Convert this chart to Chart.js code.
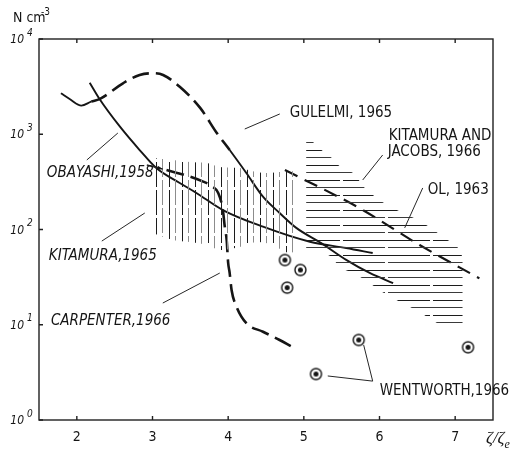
<!DOCTYPE html>
<html>
<head>
<meta charset="utf-8">
<style>
  html, body { margin: 0; padding: 0; background: #fff; }
  #wrap { width: 522px; height: 455px; }
</style>
<script src="https://cdn.jsdelivr.net/npm/chart.js@4.4.1/dist/chart.umd.min.js"></script>
</head>
<body>
<div id="wrap"><canvas id="c" width="522" height="455"></canvas></div>
<script>
// ---- axis ticks ----
const xTicks = [2, 3, 4, 5, 6, 7];
const yTicks = [1, 10, 100, 1000, 10000];
const yTickExp = ['0', '1', '2', '3', '4'];

// ---- Gulelmi, 1965 (solid / dashed / solid) ----
const gulelmiX = [1.79, 1.91, 2.06, 2.19, 2.30, 2.61, 2.83, 3.01, 3.14, 3.36, 3.63, 3.85, 4.02, 4.24, 4.46, 4.68, 4.90, 5.23, 5.56, 5.87, 6.18];
const gulelmiN = [2690, 2330, 2000, 2200, 2340, 3430, 4190, 4370, 4190, 3150, 1890, 1030, 683, 392, 221, 149, 104, 72, 48, 35, 27.4];
const gulelmiDashFrom = 2.19;
const gulelmiDashTo = 4.02;

// ---- Obayashi, 1958 ----
const obayashiX = [2.17, 2.30, 2.57, 2.83, 3.05, 3.36, 3.58, 3.93, 4.46, 5.08, 5.56, 5.91];
const obayashiN = [3475, 2344, 1200, 683, 442, 308, 242, 160, 107, 74.4, 64, 56.6];

// ---- Carpenter, 1966 ----
const carpenterX = [3.185, 3.43, 3.67, 3.78, 3.87, 3.93, 3.955, 3.98, 4.00, 4.02, 4.045, 4.11, 4.24, 4.46, 4.68, 4.84];
const carpenterN = [421, 373, 318, 287, 240, 160, 107, 77.6, 44.5, 34.9, 23.2, 15.5, 10.4, 8.45, 6.92, 5.88];

// ---- Ol, 1963 ----
const olX = [4.75, 5.74, 6.53, 7.32];
const olN = [421, 167, 68.7, 30.7];

// ---- Kitamura, 1965 (range) ----
const kitamuraX   = [3.00, 3.27, 3.49, 3.72, 3.89, 4.15, 4.38, 4.55, 4.81, 4.91];
const kitamuraTop = [564, 537, 512, 499, 453, 442, 401, 392, 411, 401];
const kitamuraLow = [91.8, 77.6, 74.0, 68.8, 60.9, 65.5, 74.0, 70.5, 56.6, 60.9];

// ---- Kitamura and Jacobs, 1966 (range) ----
const kjX   = [5.03, 5.12, 5.25, 5.37, 5.47, 5.65, 5.83, 6.10, 6.51, 6.70, 6.84, 6.97, 7.06, 7.10];
const kjTop = [830, 830, 667, 563, 464, 392, 260, 181, 126, 101, 83, 72, 61, 50];
const kjLow = [61, 61, 56.6, 51.4, 40.4, 34.9, 28.8, 20.5, 13.9, 11.2, 9.5, 9.5, 9.5, 9.5];

// ---- single measurements ----
const spotX = [4.75, 4.955, 4.78];
const spotN = [47.8, 37.6, 24.5];
const wentworthX = [5.16, 5.725, 7.17];
const wentworthN = [3.04, 6.92, 5.80];

// ---- annotations (placed in data units) ----
const notes = [
  { text: 'GULELMI, 1965',  x: 4.814, y: 1517, italic: false },
  { text: 'KITAMURA AND',   x: 6.122, y: 871,  italic: false },
  { text: 'JACOBS, 1966',   x: 6.108, y: 592,  italic: false },
  { text: 'OL, 1963',       x: 6.637, y: 236,  italic: false },
  { text: 'OBAYASHI,1958',  x: 1.604, y: 356,  italic: true },
  { text: 'KITAMURA,1965',  x: 1.630, y: 47.9, italic: true },
  { text: 'CARPENTER,1966', x: 1.657, y: 9.93, italic: true },
  { text: 'WENTWORTH,1966', x: 6.003, y: 1.83, italic: false }
];
const leaders = [
  [[4.219, 1135], [4.682, 1633]],
  [[2.132, 537], [2.542, 1030]],
  [[2.330, 75.6], [2.898, 149]],
  [[3.136, 16.9], [3.889, 34.9]],
  [[5.778, 331], [6.042, 606]],
  [[6.333, 104], [6.571, 273]],
  [[5.316, 2.90], [5.910, 2.56], [5.791, 6.12]]
];
const arrows = [
  [[2.925, 475], [3.136, 431]]
];

const NARROW = "'Liberation Sans Narrow', 'DejaVu Sans Condensed', 'Liberation Sans', sans-serif";
const INK = '#151515';

const pts = (xs, ys) => xs.map((x, i) => ({ x: x, y: ys[i] }));

function verticalHatch() {
  const c = document.createElement('canvas');
  c.width = 13; c.height = 28;
  const g = c.getContext('2d');
  g.fillStyle = '#1c1c1c';
  g.fillRect(0, 0, 1, 19); g.fillRect(0, 22, 1, 6);
  g.fillStyle = '#8c8c8c';
  g.fillRect(6, 0, 1, 9); g.fillRect(6, 12, 1, 16);
  return g.createPattern(c, 'repeat');
}
function horizontalHatch() {
  const c = document.createElement('canvas');
  c.width = 90; c.height = 15;
  const g = c.getContext('2d');
  g.fillStyle = '#1c1c1c';
  g.fillRect(0, 0, 70, 1); g.fillRect(73, 0, 17, 1);
  g.fillStyle = '#3a3a3a';
  g.fillRect(0, 7, 25, 1); g.fillRect(28, 7, 62, 1);
  return g.createPattern(c, 'repeat');
}
function ringDot() {
  const c = document.createElement('canvas');
  c.width = 15; c.height = 15;
  const g = c.getContext('2d');
  g.fillStyle = '#fff';
  g.beginPath(); g.arc(7.5, 7.5, 5.5, 0, Math.PI * 2); g.fill();
  g.strokeStyle = INK; g.lineWidth = 1.4; g.stroke();
  g.fillStyle = INK;
  g.beginPath(); g.arc(7.5, 7.5, 2.5, 0, Math.PI * 2); g.fill();
  return c;
}

const marker = ringDot();
const clear = 'rgba(0,0,0,0)';

// frame, ticks, axis texts and annotations
const decorations = {
  id: 'decorations',
  afterDatasetsDraw(chart) {
    const { ctx, chartArea: a, scales: { x, y } } = chart;
    ctx.save();
    ctx.strokeStyle = '#202020';
    ctx.lineWidth = 1.4;
    ctx.strokeRect(a.left, a.top, a.right - a.left, a.bottom - a.top);

    // ticks pointing inward
    ctx.beginPath();
    xTicks.forEach(v => {
      const px = x.getPixelForValue(v);
      ctx.moveTo(px, a.bottom); ctx.lineTo(px, a.bottom - 4);
      ctx.moveTo(px, a.top); ctx.lineTo(px, a.top + 4);
    });
    yTicks.forEach(v => {
      const py = y.getPixelForValue(v);
      ctx.moveTo(a.left, py); ctx.lineTo(a.left + 4, py);
    });
    ctx.stroke();

    ctx.fillStyle = INK;
    ctx.textBaseline = 'middle';
    ctx.textAlign = 'center';
    ctx.font = '14px ' + NARROW;
    xTicks.forEach(v => ctx.fillText(String(v), x.getPixelForValue(v), 437));

    yTicks.forEach((v, i) => {
      const py = y.getPixelForValue(v) + 1;
      ctx.textAlign = 'right';
      ctx.font = 'italic 12px ' + NARROW;
      ctx.fillText('10', a.left - 15, py);
      ctx.textAlign = 'left';
      ctx.font = 'italic 10px ' + NARROW;
      ctx.fillText(yTickExp[i], a.left - 12, py - 7);
    });

    // axis titles
    ctx.textAlign = 'left';
    ctx.textBaseline = 'alphabetic';
    ctx.font = '14px ' + NARROW;
    ctx.fillText('N cm', 13, 22);
    ctx.font = '10px ' + NARROW;
    ctx.fillText('-3', 41, 15);
    ctx.font = 'italic 17px "Liberation Serif", "DejaVu Serif", serif';
    ctx.fillText('\u03b6/\u03b6', 486, 443);
    const w = ctx.measureText('\u03b6/\u03b6').width;
    ctx.font = 'italic 12px "Liberation Serif", "DejaVu Serif", serif';
    ctx.fillText('e', 486 + w, 448);

    // leader lines
    ctx.strokeStyle = '#262626';
    ctx.lineWidth = 1;
    leaders.forEach(path => {
      ctx.beginPath();
      path.forEach(([vx, vy], k) => {
        const px = x.getPixelForValue(vx), py = y.getPixelForValue(vy);
        if (k === 0) ctx.moveTo(px, py); else ctx.lineTo(px, py);
      });
      ctx.stroke();
    });
    arrows.forEach(([[x0, y0], [x1, y1]]) => {
      const ax = x.getPixelForValue(x0), ay = y.getPixelForValue(y0);
      const bx = x.getPixelForValue(x1), by = y.getPixelForValue(y1);
      ctx.lineWidth = 1.4;
      ctx.beginPath(); ctx.moveTo(ax, ay); ctx.lineTo(bx, by); ctx.stroke();
      const ang = Math.atan2(by - ay, bx - ax);
      ctx.beginPath();
      ctx.moveTo(bx, by);
      ctx.lineTo(bx - 6 * Math.cos(ang - 0.35), by - 6 * Math.sin(ang - 0.35));
      ctx.lineTo(bx - 6 * Math.cos(ang + 0.35), by - 6 * Math.sin(ang + 0.35));
      ctx.closePath(); ctx.fill();
    });

    // labels
    notes.forEach(n => {
      ctx.font = (n.italic ? 'italic ' : '') + '15px ' + NARROW;
      ctx.fillText(n.text, x.getPixelForValue(n.x), y.getPixelForValue(n.y));
    });
    ctx.restore();
  }
};

const lineBase = { pointRadius: 0, fill: false, cubicInterpolationMode: 'monotone', borderColor: INK };

new Chart(document.getElementById('c'), {
  type: 'line',
  data: {
    datasets: [
      // Kitamura 1965 range: top edge then hatched fill down to the low edge
      { data: pts(kitamuraX, kitamuraTop), borderColor: clear, borderWidth: 1, pointRadius: 0, fill: false, tension: 0.3 },
      { data: pts(kitamuraX, kitamuraLow), borderColor: clear, borderWidth: 1, pointRadius: 0, fill: '-1', backgroundColor: verticalHatch(), tension: 0.3 },
      // Kitamura and Jacobs 1966 range
      { data: pts(kjX, kjTop), borderColor: clear, borderWidth: 1, pointRadius: 0, fill: false, tension: 0.2 },
      { data: pts(kjX, kjLow), borderColor: clear, borderWidth: 1, pointRadius: 0, fill: '-1', backgroundColor: horizontalHatch(), tension: 0.2 },
      // curves
      Object.assign({}, lineBase, {
        data: pts(gulelmiX, gulelmiN), borderWidth: 2.3,
        segment: {
          borderDash: c => (c.p0.parsed.x >= gulelmiDashFrom && c.p1.parsed.x <= gulelmiDashTo) ? [17, 7] : undefined,
          borderWidth: c => (c.p0.parsed.x >= gulelmiDashFrom && c.p1.parsed.x <= gulelmiDashTo) ? 2.6 : 1.9
        }
      }),
      Object.assign({}, lineBase, { data: pts(obayashiX, obayashiN), borderWidth: 1.9 }),
      Object.assign({}, lineBase, { data: pts(carpenterX, carpenterN), borderWidth: 2.6, borderDash: [18, 7] }),
      Object.assign({}, lineBase, { data: pts(olX, olN), borderWidth: 2.2, borderDash: [14, 8] }),
      // point measurements
      { data: pts(spotX, spotN), showLine: false, pointStyle: marker, pointRadius: 6 },
      { data: pts(wentworthX, wentworthN), showLine: false, pointStyle: marker, pointRadius: 6 }
    ]
  },
  options: {
    responsive: false,
    animation: false,
    events: [],
    layout: { padding: { left: 39, right: 29, top: 39, bottom: 35 } },
    plugins: { legend: { display: false }, tooltip: { enabled: false } },
    scales: {
      x: { type: 'linear', min: 1.5, max: 7.5, display: false },
      y: { type: 'logarithmic', min: 1, max: 10000, display: false }
    }
  },
  plugins: [decorations]
});
</script>
</body>
</html>
